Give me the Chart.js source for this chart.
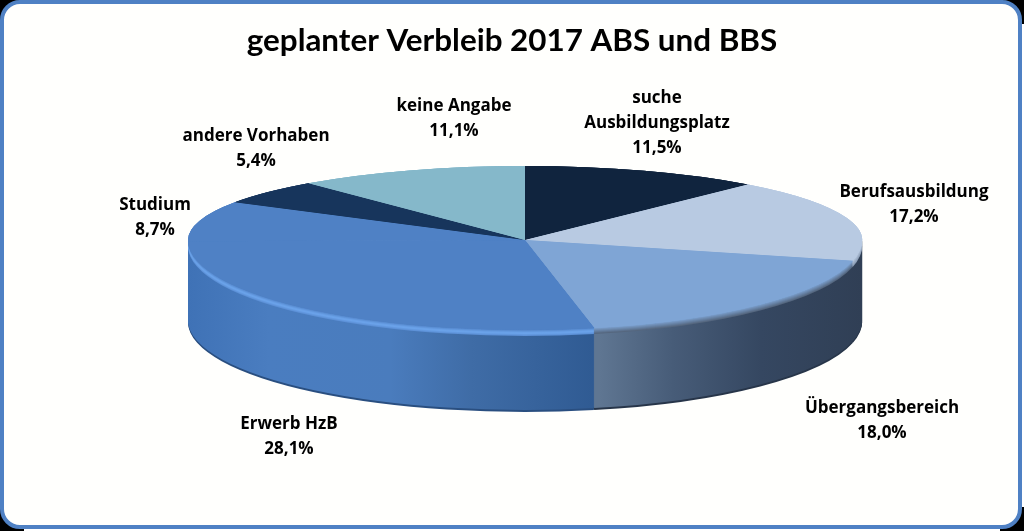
<!DOCTYPE html>
<html>
<head>
<meta charset="utf-8">
<title>geplanter Verbleib 2017 ABS und BBS</title>
<script src="https://cdn.jsdelivr.net/npm/chart.js@4"></script>
<style>
  html, body { margin: 0; padding: 0; background: #fff; overflow: hidden; }
  #stage { position: relative; width: 1024px; height: 531px; overflow: hidden; }
  .corner { position: absolute; width: 24px; height: 24px; background: #000; }
  #panel {
    position: absolute; left: 0; top: 0; width: 1022px; height: 529px; box-sizing: border-box;
    background: #fffffd; border: 4px solid #4f81c4; border-radius: 20px;
  }
  canvas { position: absolute; left: 0; top: 0; }
</style>
</head>
<body>
<div id="stage">
  <div class="corner" style="left:0;top:0"></div>
  <div class="corner" style="right:0;top:0"></div>
  <div class="corner" style="left:0;bottom:0"></div>
  <div class="corner" style="right:0;bottom:0"></div>
  <div id="panel"></div>
  <canvas id="chart" width="1024" height="531"></canvas>
</div>
<script>
const TITLE = 'geplanter Verbleib 2017 ABS und BBS';

const categories = ['suche Ausbildungsplatz', 'Berufsausbildung', 'Übergangsbereich', 'Erwerb HzB', 'Studium', 'andere Vorhaben', 'keine Angabe'];
const shares = [11.5, 17.2, 18.0, 28.1, 8.7, 5.4, 11.1];

const sliceColors = ['#10243e', '#b8cae2', '#7fa5d5', '#4f81c5', '#4f81c5', '#17355c', '#85b8ca'];
const rimColors   = ['#10243e', '#8a9cb4', '#55677f', '#6ea6ee', '#6ea6ee', '#17355c', '#85b8ca'];

// label line breaks and where each label sits (centre x, first line y)
const labelLines = [['suche', 'Ausbildungsplatz'], ['Berufsausbildung'], ['Übergangsbereich'], ['Erwerb HzB'], ['Studium'], ['andere Vorhaben'], ['keine Angabe']];
const labelSpots = [[657, 98], [914, 192], [882, 408], [289, 424], [155, 205], [256, 136], [454, 106]];

// the flattened pie on the page
const PIE_X = 525, PIE_Y = 240, PIE_RX = 337, RY_BACK = 74, RY_FRONT = 90, DEPTH = 82, BEVEL = 6;

const blueSide  = [[0, '#3f72b6'], [0.12, '#4a7dc0'], [0.3, '#4a7cbd'], [0.42, '#3f6ca6'], [0.61, '#2f5a92'], [1, '#2f5a92']];
const slateSide = [[0, '#5f7692'], [0.61, '#5f7692'], [0.72, '#475c78'], [0.85, '#354761'], [1, '#303f55']];

function hexMix(a, b, t) {
  const ch = (h, i) => parseInt(h.substr(1 + i * 2, 2), 16);
  const out = [0, 1, 2].map(i => Math.round(ch(a, i) + (ch(b, i) - ch(a, i)) * t));
  return `rgb(${out.join(',')})`;
}

function sideGradient(ctx, arc, stops) {
  const g = ctx.createLinearGradient(arc.x - arc.outerRadius, 0, arc.x + arc.outerRadius, 0);
  stops.forEach(([p, c]) => g.addColorStop(p, c));
  return g;
}

function drawArcWith(ctx, arc, fill) {
  const saved = arc.options;
  arc.options = { ...saved, backgroundColor: fill, borderWidth: 0 };
  arc.draw(ctx);
  arc.options = saved;
}

// one half of the squashed disc: back half above PIE_Y, front half below
function withHalf(ctx, arc, front, shift, fn) {
  const ry = front ? RY_FRONT : RY_BACK;
  ctx.save();
  ctx.beginPath();
  if (front) ctx.rect(0, PIE_Y + shift, 1024, 531);
  else ctx.rect(0, 0, 1024, PIE_Y + shift);
  ctx.clip();
  ctx.translate(PIE_X, PIE_Y + shift);
  ctx.scale(PIE_RX / arc.outerRadius, ry / arc.outerRadius);
  ctx.translate(-arc.x, -arc.y);
  fn();
  ctx.restore();
}

const pie3d = {
  id: 'pie3d',
  beforeDatasetsDraw(chart) {
    const ctx = chart.ctx;
    const arcs = chart.getDatasetMeta(0).data;

    // side wall, stacked from the bottom up
    for (let s = DEPTH; s >= 1; s--) {
      arcs.forEach((arc, i) => {
        let fill = sideGradient(ctx, arc, i >= 3 ? blueSide : slateSide);
        if (s >= DEPTH - 1) fill = i >= 3 ? '#2a4f80' : '#28364a';
        withHalf(ctx, arc, true, s, () => drawArcWith(ctx, arc, fill));
      });
    }

    // soft rim where the top face meets the wall
    for (let s = BEVEL; s >= 1; s--) {
      const t = s / BEVEL;
      arcs.forEach((arc, i) => {
        const k = i >= 3 ? (t > 0.6 ? 1 - (t - 0.6) * 1.4 : t / 0.6) : t;
        withHalf(ctx, arc, true, s, () => drawArcWith(ctx, arc, hexMix(sliceColors[i], rimColors[i], k)));
      });
    }

    // top face, twice so the seams between slices close up
    for (let pass = 0; pass < 3; pass++) {
      arcs.forEach((arc, i) => {
        withHalf(ctx, arc, false, 0, () => drawArcWith(ctx, arc, sliceColors[i]));
        withHalf(ctx, arc, true, 0, () => drawArcWith(ctx, arc, sliceColors[i]));
      });
    }
    return false;
  },
  afterDraw(chart) {
    const ctx = chart.ctx;
    ctx.save();
    ctx.fillStyle = '#000';
    ctx.font = 'bold 17px "Open Sans"';
    ctx.textAlign = 'center';
    ctx.textBaseline = 'middle';
    labelLines.forEach((lines, i) => {
      const [x, y] = labelSpots[i];
      const pct = shares[i].toFixed(1).replace('.', ',') + '%';
      lines.concat(pct).forEach((line, n) => ctx.fillText(line, x, y + n * 25.3));
    });
    ctx.restore();
  }
};

new Chart(document.getElementById('chart'), {
  type: 'pie',
  data: {
    labels: categories,
    datasets: [{ data: shares, backgroundColor: sliceColors, borderWidth: 0 }]
  },
  options: {
    responsive: false,
    animation: false,
    devicePixelRatio: 1,
    plugins: {
      legend: { display: false },
      tooltip: { enabled: false },
      title: {
        display: true,
        text: TITLE,
        color: '#000',
        font: { family: 'Lato', size: 31.4, weight: 'bold' },
        padding: { top: 22, bottom: 10 }
      }
    }
  },
  plugins: [pie3d]
});
</script>
</body>
</html>
